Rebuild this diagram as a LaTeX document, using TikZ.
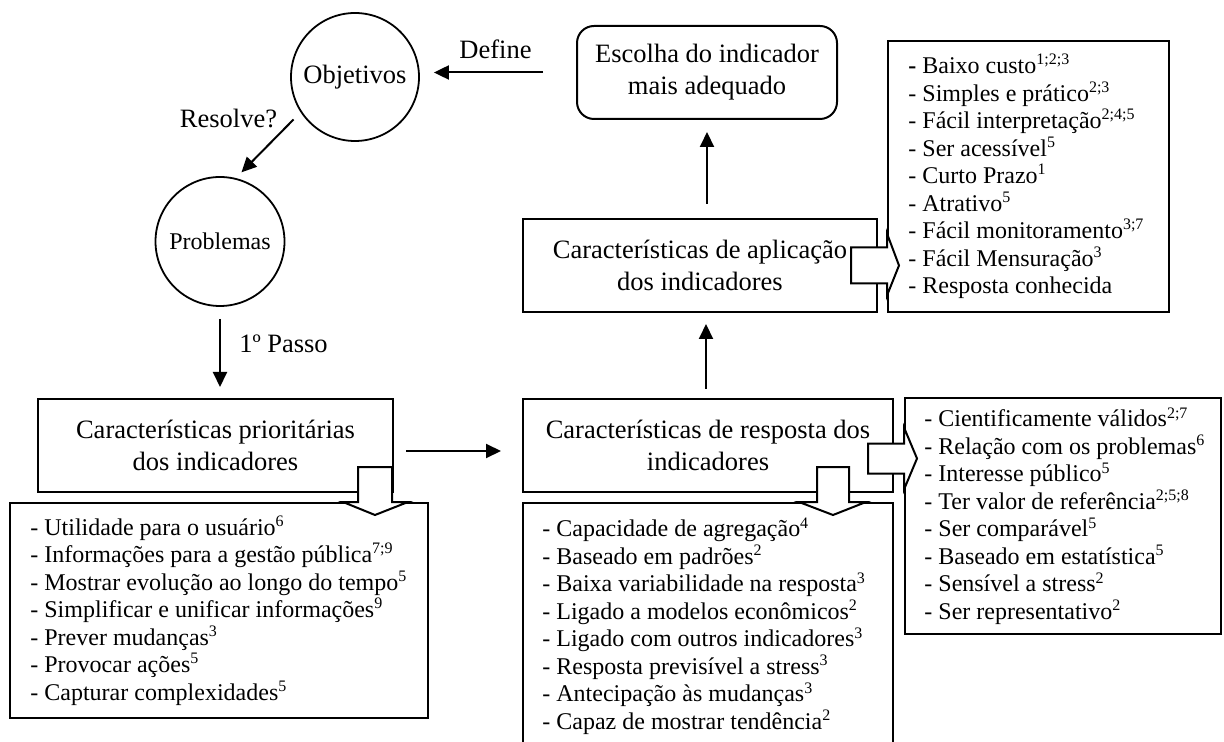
\documentclass[tikz,border=0pt]{standalone}
\usepackage{fontspec}
\setmainfont{Liberation Serif}
\usetikzlibrary{arrows.meta,calc}
\begin{document}
\begin{tikzpicture}[x=0.5pt,y=-0.5pt,
  box/.style={draw,line width=1pt,inner sep=0pt,align=center,font=\fontsize{13.25}{15.75}\selectfont},
  circ/.style={draw,circle,line width=0.9pt,inner sep=0pt},
  lbl/.style={font=\fontsize{13.25}{15.75}\selectfont,inner sep=0pt,anchor=base},
  lst/.style={draw,line width=1pt,inner sep=0pt},
  lsttxt/.style={align=left,inner sep=0pt,anchor=west,font=\fontsize{12}{13.75}\selectfont},
  conn/.style={line width=1pt,-{Triangle[length=7.5pt,width=7pt]}},
  barrow/.style={draw,fill=white,line width=1pt,line join=miter}]
\useasboundingbox (0,0) rectangle (1224,742);
\clip (0,0) rectangle (1224,742);

% main nodes
\node[circ,minimum size=64pt,font=\fontsize{13.25}{15}\selectfont] (obj) at (355,77) {Objetivos};
\node[circ,minimum size=64.5pt,font=\fontsize{12}{14}\selectfont] (prob) at (220,241.5) {Problemas};
\node[box,rounded corners=8.5pt,minimum width=130pt,minimum height=46.5pt,font=\fontsize{13.25}{16}\selectfont] (esc) at (707,72.5) {Escolha do indicador\\mais adequado};
\node[box,minimum width=177pt,minimum height=46.5pt] (apl) at (700,265.5) {Características de aplicação\\dos indicadores};
\node[box,minimum width=177.5pt,minimum height=46.5pt] (prio) at (215.5,445.5) {Características prioritárias\\dos indicadores};
\node[box,minimum width=185pt,minimum height=46.5pt] (resp) at (708,445.5) {Características de resposta dos\\indicadores};

% list boxes
\node[lst,minimum width=140.5pt,minimum height=135.5pt] (lstA) at (1028.5,176.5) {};
\node[lst,minimum width=209pt,minimum height=107.5pt] (lstL) at (219,610.5) {};
\node[lst,minimum width=185pt,minimum height=123pt] (lstM) at (708,626) {};
\node[lst,minimum width=158pt,minimum height=118pt] (lstR) at (1063,516) {};

% block arrows
\coordinate (ar) at (lstA.west |- apl.east);
\begin{scope}[shift={(ar)}]
\draw[barrow] (-36,-18) -- (0,-18) -- (0,-32) -- (12,0) -- (0,30) -- (0,18) -- (-36,18) -- cycle;
\end{scope}
\coordinate (rr) at ($(lstR.west |- resp.east)+(0,13)$);
\begin{scope}[shift={(rr)}]
\draw[barrow] (-36,-15) -- (0,-15) -- (0,-31) -- (13,0) -- (0,31) -- (0,15) -- (-36,15) -- cycle;
\end{scope}
\coordinate (pd) at ($(prio.east |- lstL.north)+(-19,0)$);
\begin{scope}[shift={(pd)}]
\draw[barrow] (-17,-35) -- (17,-35) -- (17,0) -- (33,0) -- (0,13) -- (-32,0) -- (-17,0) -- cycle;
\end{scope}
\coordinate (rd) at ($(resp.east |- lstM.north)+(-61,0)$);
\begin{scope}[shift={(rd)}]
\draw[barrow] (-16,-35) -- (16,-35) -- (16,0) -- (33,0) -- (0,13) -- (-34,0) -- (-16,0) -- cycle;
\end{scope}

% list texts
\node[lsttxt] (lstAt) at ($(lstA.west)+(21,0)$) {\textbf{-} Baixo custo\textsuperscript{1;2;3}\\
- Simples e prático\textsuperscript{2;3}\\
- Fácil interpretação\textsuperscript{2;4;5}\\
- Ser acessível\textsuperscript{5}\\
- Curto Prazo\textsuperscript{1}\\
- Atrativo\textsuperscript{5}\\
- Fácil monitoramento\textsuperscript{3;7}\\
- Fácil Mensuração\textsuperscript{3}\\
- Resposta conhecida};
\node[lsttxt] (lstLt) at ($(lstL.west)+(21,0)$) {- Utilidade para o usuário\textsuperscript{6}\\
- Informações para a gestão pública\textsuperscript{7;9}\\
- Mostrar evolução ao longo do tempo\textsuperscript{5}\\
- Simplificar e unificar informações\textsuperscript{9}\\
- Prever mudanças\textsuperscript{3}\\
- Provocar ações\textsuperscript{5}\\
- Capturar complexidades\textsuperscript{5}};
\node[lsttxt] (lstMt) at ($(lstM.west)+(20,0)$) {- Capacidade de agregação\textsuperscript{4}\\
- Baseado em padrões\textsuperscript{2}\\
- Baixa variabilidade na resposta\textsuperscript{3}\\
- Ligado a modelos econômicos\textsuperscript{2}\\
- Ligado com outros indicadores\textsuperscript{3}\\
- Resposta previsível a stress\textsuperscript{3}\\
- Antecipação às mudanças\textsuperscript{3}\\
- Capaz de mostrar tendência\textsuperscript{2}};
\node[lsttxt] (lstRt) at ($(lstR.west)+(20,0)$) {- Cientificamente válidos\textsuperscript{2;7}\\
- Relação com os problemas\textsuperscript{6}\\
- Interesse público\textsuperscript{5}\\
- Ter valor de referência\textsuperscript{2;5;8}\\
- Ser comparável\textsuperscript{5}\\
- Baseado em estatística\textsuperscript{5}\\
- Sensível a stress\textsuperscript{2}\\
- Ser representativo\textsuperscript{2}};

% connectors
\draw[conn,shorten <=16.5pt,shorten >=7pt] (esc.west) -- (esc.west -| obj.east);
\draw[conn,shorten <=5pt,shorten >=4pt] (obj.213.5) -- (prob.76.4);
\draw[conn,shorten <=6pt,shorten >=5.5pt] (prob.south) -- (prob.south |- prio.north);
\coordinate (pr) at ($(prio.east)+(0,5.5)$);
\draw[conn,shorten <=6pt,shorten >=10.5pt] (pr) -- (pr -| resp.west);
\coordinate (ra) at ($(resp.north)+(-2,0)$);
\draw[conn,shorten <=4.5pt,shorten >=5.5pt] (ra) -- (ra |- apl.south);
\draw[conn,shorten <=7pt,shorten >=6pt] (esc.south |- apl.north) -- (esc.south);

% labels
\node[lbl] (ldef) at (495.5,59) {Define};
\node[lbl] (lres) at (228.5,128) {Resolve?};
\node[lbl] (lpas) at (283.5,353) {1º Passo};
\end{tikzpicture}
\end{document}
